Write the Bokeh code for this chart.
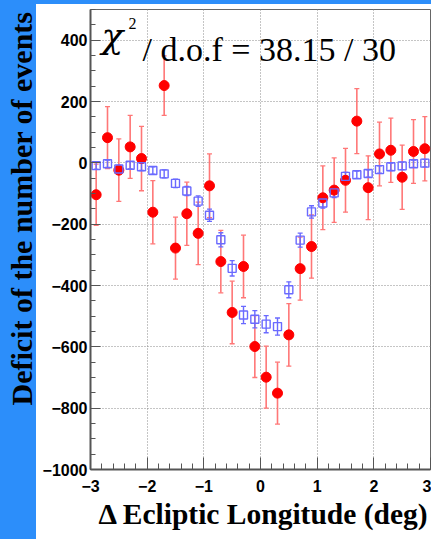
from bokeh.plotting import figure
from bokeh.models import (ColumnDataSource, Whisker, TeeHead, Label, Range1d,
                          FixedTicker, Title)
from bokeh.embed import file_html
from bokeh.resources import INLINE

# ---- data ----
x_bins = [-2.9, -2.7, -2.5, -2.3, -2.1, -1.9, -1.7, -1.5, -1.3, -1.1,
          -0.9, -0.7, -0.5, -0.3, -0.1, 0.1, 0.3, 0.5, 0.7, 0.9,
          1.1, 1.3, 1.5, 1.7, 1.9, 2.1, 2.3, 2.5, 2.7, 2.9]
data_deficit = [-104, 82, -24, 52, 14, -161, 252, -278, -166, -230,
                -75, -322, -488, -338, -599, -699, -751, -561, -345, -273,
                -114, -89, -57, 136, -81, 29, 41, -47, 37, 46]
data_err = [100, 101, 102, 103, 105, 103, 97, 101, 103, 102,
            104, 102, 102, 102, 101, 101, 101, 102, 103, 103,
            104, 105, 104, 106, 104, 104, 105, 105, 104, 105]
mc_deficit = [-9, -3, -20, -8, -13, -25, -36, -67, -92, -125,
              -171, -251, -344, -496, -510, -526, -534, -414, -252, -160,
              -131, -98, -44, -39, -35, -22, -13, -10, -3, -1]
mc_err = [12, 12, 12, 12, 12, 12, 13, 14, 15, 17,
          20, 23, 25, 28, 28, 28, 28, 26, 23, 20,
          17, 15, 13, 12, 12, 12, 12, 12, 12, 12]

x_ticks = [-3, -2, -1, 0, 1, 2, 3]
x_minor = [-3.0, -2.8, -2.6, -2.4, -2.2, -2.0, -1.8, -1.6, -1.4, -1.2, -1.0,
           -0.8, -0.6, -0.4, -0.2, 0.0, 0.2, 0.4, 0.6, 0.8, 1.0,
           1.2, 1.4, 1.6, 1.8, 2.0, 2.2, 2.4, 2.6, 2.8, 3.0]
y_ticks = [-1000, -800, -600, -400, -200, 0, 200, 400]
y_minor = list(range(-1000, 501, 50))

y_title = "Deficit of the number of events"
x_title = "\u0394 Ecliptic Longitude (deg)"
chi_symbol = "\u03c7"
chi_power = "2"
chi_text = "/ d.o.f = 38.15 / 30"

BLUE_BG = "#2C8EFA"

p = figure(width=431, height=539, output_backend="svg", toolbar_location=None,
           x_range=Range1d(-3, 3), y_range=Range1d(-1000, 500),
           min_border_left=90, min_border_right=1, min_border_top=9,
           min_border_bottom=70)
p.border_fill_color = None
p.background_fill_color = "white"
p.styles = {"background": (f"linear-gradient({BLUE_BG}, {BLUE_BG}) 0 0 / 36px 100% no-repeat, "
                           f"linear-gradient({BLUE_BG}, {BLUE_BG}) 0 0 / 100% 4px no-repeat, "
                           "#ffffff")}
p.outline_line_color = "#666666"
p.outline_line_width = 1

# axes
for ax in (p.xaxis[0], p.yaxis[0]):
    ax.axis_line_color = "#555555"
    ax.axis_line_width = 2
    ax.major_tick_line_color = "#555555"
    ax.minor_tick_line_color = "#555555"
    ax.major_tick_out = 0
    ax.minor_tick_out = 0
    ax.major_label_text_font = "Liberation Sans"
    ax.major_label_text_font_style = "bold"
    ax.major_label_text_font_size = "16px"
    ax.major_label_text_color = "black"

p.xaxis.ticker = FixedTicker(ticks=x_ticks, minor_ticks=x_minor)
p.yaxis.ticker = FixedTicker(ticks=y_ticks, minor_ticks=y_minor)
p.xaxis.major_tick_in = 12
p.xaxis.minor_tick_in = 6
p.yaxis.major_tick_in = 10
p.yaxis.minor_tick_in = 5
p.xaxis.major_label_standoff = 10
p.yaxis.major_label_standoff = 3

p.xgrid.ticker = FixedTicker(ticks=x_ticks)
p.ygrid.ticker = FixedTicker(ticks=y_ticks)
for g in (p.xgrid[0], p.ygrid[0]):
    g.grid_line_color = "#8a8a8a"
    g.grid_line_dash = "1 2"
    g.grid_line_width = 1

# axis titles (as side-panel titles so they can sit where the reference has them)
p.add_layout(Title(text=y_title, align="left", offset=64, standoff=3,
                   text_font="Liberation Serif", text_font_style="bold",
                   text_font_size="30px", text_color="black"), "left")
p.add_layout(Title(text=x_title, align="left", offset=8, standoff=2,
                   text_font="Liberation Serif", text_font_style="bold",
                   text_font_size="29.5px", text_color="black"), "below")

# data sources
src_d = ColumnDataSource(dict(x=x_bins, y=data_deficit,
                              lo=[v - e for v, e in zip(data_deficit, data_err)],
                              hi=[v + e for v, e in zip(data_deficit, data_err)]))
src_m = ColumnDataSource(dict(x=x_bins, y=mc_deficit,
                              lo=[v - e for v, e in zip(mc_deficit, mc_err)],
                              hi=[v + e for v, e in zip(mc_deficit, mc_err)]))

RED_BAR = "#ff7777"
w_d = Whisker(source=src_d, base="x", upper="hi", lower="lo", dimension="height",
              line_color=RED_BAR, line_width=1.6,
              upper_head=TeeHead(size=5, line_color=RED_BAR, line_width=1.3),
              lower_head=TeeHead(size=5, line_color=RED_BAR, line_width=1.3))
p.add_layout(w_d)
p.scatter("x", "y", source=src_d, marker="circle", size=10,
          fill_color="#ff0000", line_color="#ff0000")

BLUE_M = "#6a6aff"
w_m = Whisker(source=src_m, base="x", upper="hi", lower="lo", dimension="height",
              line_color=BLUE_M, line_width=1.4,
              upper_head=TeeHead(size=5, line_color=BLUE_M, line_width=1.3),
              lower_head=TeeHead(size=5, line_color=BLUE_M, line_width=1.3))
p.add_layout(w_m)
p.scatter("x", "y", source=src_m, marker="square", size=8,
          fill_color=None, line_color=BLUE_M, line_width=1.4)


# helpers converting pixel positions to data coordinates for the in-frame text
def sx(px):
    return -3 + (px - 90) * 6 / 340


def sy(py, fs):
    # compensate for the label baseline shift (~0.32 em) seen in the renderer
    return 500 - (py - 9 - 0.32 * fs) * 1500 / 460


p.add_layout(Label(x=sx(101), y=sy(47, 36), text=chi_symbol, text_align="left",
                   text_baseline="alphabetic", text_font="DejaVu Serif",
                   text_font_style="italic", text_font_size="36px", text_color="black"))
p.add_layout(Label(x=sx(128), y=sy(28, 16), text=chi_power, text_align="left",
                   text_baseline="alphabetic", text_font="Liberation Serif",
                   text_font_size="16px", text_color="black"))
p.add_layout(Label(x=sx(142), y=sy(60, 34), text=chi_text, text_align="left",
                   text_baseline="alphabetic", text_font="Liberation Serif",
                   text_font_size="34px", text_color="black"))

open("out.html", "w").write(file_html(p, INLINE))
